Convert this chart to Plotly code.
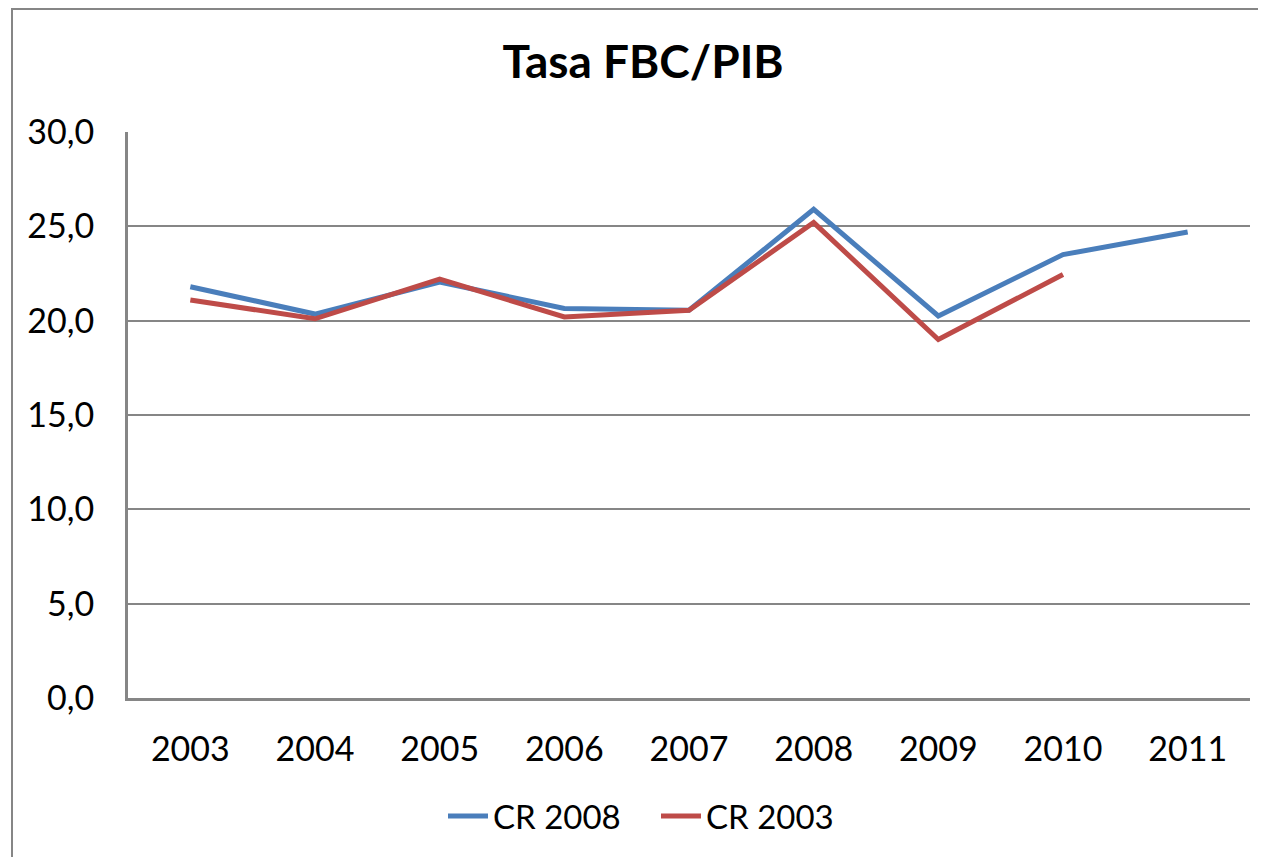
import plotly.graph_objects as go

years = ["2003", "2004", "2005", "2006", "2007", "2008", "2009", "2010", "2011"]
cr2008 = [21.8, 20.35, 22.05, 20.65, 20.55, 25.9, 20.25, 23.5, 24.7]
cr2003 = [21.1, 20.1, 22.2, 20.2, 20.55, 25.2, 19.0, 22.45, None]

FONT = "Lato"
OFF = 8  # page body margin
W, H = 1266 - OFF, 857 - OFF
L, R, T, B = 128 - OFF, 16, 132 - OFF, 159
pw, ph = W - L - R, H - T - B


def px(x):
    return (x - OFF - L) / pw


def py(y):
    return (H - B - (y - OFF)) / ph


fig = go.Figure()
fig.add_trace(go.Scatter(x=years, y=cr2008, name="CR 2008", mode="lines",
                         line=dict(color="#4A7EBB", width=5), connectgaps=False))
fig.add_trace(go.Scatter(x=years, y=cr2003, name="CR 2003", mode="lines",
                         line=dict(color="#BE4B48", width=5), connectgaps=False))

fig.update_layout(
    width=W, height=H,
    margin=dict(l=L, r=R, t=T, b=B, pad=0),
    paper_bgcolor="white", plot_bgcolor="white",
    separators=",.",
    font=dict(family=FONT, size=34, color="black"),
    title=dict(text="<b>Tasa FBC/PIB</b>", x=px(643), xref="paper", xanchor="center",
               y=1 - (62 - OFF) / H, yanchor="middle", font=dict(size=46, family=FONT)),
    showlegend=True,
    legend=dict(orientation="h", x=px(656), xanchor="center",
                y=py(816), yanchor="middle",
                font=dict(size=33, family=FONT), itemwidth=40,
                entrywidth=158,
                bgcolor="rgba(0,0,0,0)"),
    xaxis=dict(type="category", range=[-0.5, 8.5], showgrid=False,
               showline=True, linecolor="#868686", linewidth=3,
               ticks="outside", ticklen=19, tickcolor="rgba(0,0,0,0)",
               tickfont=dict(size=34, family=FONT)),
    yaxis=dict(range=[0, 30], dtick=5, tick0=0, tickformat=".1f",
               showgrid=True, gridcolor="#868686", gridwidth=2,
               zeroline=False, showline=True, linecolor="#868686", linewidth=3,
               ticks="outside", ticklen=24, tickcolor="rgba(0,0,0,0)",
               tickfont=dict(size=34, family=FONT)),
    shapes=[dict(type="rect", xref="paper", yref="paper",
                 x0=px(12), x1=px(1300),
                 y0=py(900), y1=py(OFF + 1),
                 line=dict(color="#868686", width=2), fillcolor="rgba(0,0,0,0)",
                 layer="below")],
)

fig.write_html("out.html")
